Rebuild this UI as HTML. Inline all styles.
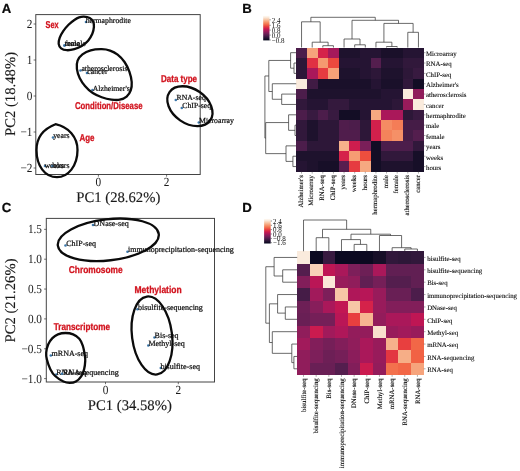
<!DOCTYPE html>
<html lang="en">
<head>
<meta charset="utf-8">
<title>Figure</title>
<style>
html,body{margin:0;padding:0;background:#fff;}
body{width:520px;height:471px;overflow:hidden;font-family:"Liberation Serif", serif;}
svg{display:block;filter:blur(0.45px);}
text{text-rendering:geometricPrecision;}
.fs{font-family:"Liberation Serif", serif;}
.fn{font-family:"Liberation Sans", sans-serif;}
</style>
</head>
<body>
<svg width="520" height="471" viewBox="0 0 520 471">
<rect x="0" y="0" width="520" height="471" fill="#ffffff"/>
<rect x="35.8" y="14.6" width="164.39999999999998" height="159.9" fill="#fff" stroke="#444" stroke-width="1"/>
<text class="fs" x="98.40" y="186.00" font-size="12.4" text-anchor="middle" fill="#1a1a1a" textLength="5.65" lengthAdjust="spacingAndGlyphs">0</text>
<text class="fs" x="166.60" y="186.00" font-size="12.4" text-anchor="middle" fill="#1a1a1a" textLength="5.65" lengthAdjust="spacingAndGlyphs">2</text>
<text class="fs" x="32.50" y="28.10" font-size="12.4" text-anchor="end" fill="#1a1a1a" textLength="5.65" lengthAdjust="spacingAndGlyphs">2</text>
<text class="fs" x="32.50" y="64.10" font-size="12.4" text-anchor="end" fill="#1a1a1a" textLength="5.65" lengthAdjust="spacingAndGlyphs">1</text>
<text class="fs" x="32.50" y="100.10" font-size="12.4" text-anchor="end" fill="#1a1a1a" textLength="5.65" lengthAdjust="spacingAndGlyphs">0</text>
<text class="fs" x="32.50" y="136.10" font-size="12.4" text-anchor="end" fill="#1a1a1a" textLength="12.02" lengthAdjust="spacingAndGlyphs">−1</text>
<text class="fs" x="32.50" y="172.10" font-size="12.4" text-anchor="end" fill="#1a1a1a" textLength="12.02" lengthAdjust="spacingAndGlyphs">−2</text>
<path d="M98.40 174.5v2.2M166.60 174.5v2.2M35.8 24.00h-2.2M35.8 60.00h-2.2M35.8 96.00h-2.2M35.8 132.00h-2.2M35.8 168.00h-2.2" fill="none" stroke="#333" stroke-width="0.7"/>
<text class="fs" x="118.30" y="202.00" font-size="14.7" text-anchor="middle" fill="#1a1a1a" stroke="#1a1a1a" stroke-width="0.15">PC1 (28.62%)</text>
<text class="fs" x="15.40" y="94.00" font-size="14.7" text-anchor="middle" fill="#1a1a1a" transform="rotate(-90 15.40 94.00)" stroke="#1a1a1a" stroke-width="0.15">PC2 (18.48%)</text>
<circle cx="86.00" cy="22.00" r="1.3" fill="#3d78aa"/>
<text class="fs" x="85.70" y="22.60" font-size="7.75" text-anchor="start" fill="#101010" stroke="#101010" stroke-width="0.22">hermaphrodite</text>
<circle cx="64.50" cy="45.50" r="1.3" fill="#3d78aa"/>
<text class="fs" x="64.80" y="46.40" font-size="7.75" text-anchor="start" fill="#101010" stroke="#101010" stroke-width="0.22">female</text>
<circle cx="64.50" cy="45.50" r="1.3" fill="#3d78aa"/>
<text class="fs" x="64.80" y="46.40" font-size="7.75" text-anchor="start" fill="#101010" stroke="#101010" stroke-width="0.22">male</text>
<circle cx="80.50" cy="70.50" r="1.3" fill="#3d78aa"/>
<text class="fs" x="81.40" y="71.40" font-size="7.75" text-anchor="start" fill="#101010" stroke="#101010" stroke-width="0.22">atherosclerosis</text>
<circle cx="87.00" cy="73.00" r="1.3" fill="#3d78aa"/>
<text class="fs" x="87.30" y="74.30" font-size="7.75" text-anchor="start" fill="#101010" stroke="#101010" stroke-width="0.22">cancer</text>
<circle cx="92.50" cy="90.00" r="1.3" fill="#3d78aa"/>
<text class="fs" x="92.70" y="90.50" font-size="7.75" text-anchor="start" fill="#101010" stroke="#101010" stroke-width="0.22">Alzheimer's</text>
<circle cx="175.80" cy="100.00" r="1.3" fill="#3d78aa"/>
<text class="fs" x="176.50" y="100.00" font-size="7.75" text-anchor="start" fill="#101010" stroke="#101010" stroke-width="0.22">RNA-seq</text>
<circle cx="181.80" cy="108.00" r="1.3" fill="#3d78aa"/>
<text class="fs" x="182.30" y="107.50" font-size="7.75" text-anchor="start" fill="#101010" stroke="#101010" stroke-width="0.22">ChIP-seq</text>
<circle cx="198.80" cy="122.50" r="1.3" fill="#3d78aa"/>
<text class="fs" x="199.00" y="123.00" font-size="7.75" text-anchor="start" fill="#101010" stroke="#101010" stroke-width="0.22">Microarray</text>
<circle cx="53.00" cy="137.50" r="1.3" fill="#3d78aa"/>
<text class="fs" x="53.20" y="137.80" font-size="7.75" text-anchor="start" fill="#101010" stroke="#101010" stroke-width="0.22">years</text>
<circle cx="45.00" cy="166.00" r="1.3" fill="#3d78aa"/>
<text class="fs" x="44.50" y="168.00" font-size="7.75" text-anchor="start" fill="#101010" stroke="#101010" stroke-width="0.22">weeks</text>
<circle cx="52.50" cy="166.00" r="1.3" fill="#3d78aa"/>
<text class="fs" x="52.20" y="168.00" font-size="7.75" text-anchor="start" fill="#101010" stroke="#101010" stroke-width="0.22">hours</text>
<path d="M83.86 16.56C85.63 16.65 88.13 17.09 89.68 17.94C91.23 18.78 92.47 20.14 93.17 21.64C93.88 23.14 94.06 24.90 93.92 26.93C93.77 28.96 93.30 31.52 92.33 33.81C91.36 36.10 89.86 38.66 88.10 40.69C86.33 42.72 84.04 44.57 81.75 45.98C79.45 47.39 76.81 48.45 74.34 49.15C71.87 49.86 69.14 50.35 66.93 50.21C64.73 50.07 62.49 49.37 61.11 48.31C59.74 47.25 58.91 45.63 58.68 43.86C58.45 42.10 58.98 39.84 59.74 37.72C60.49 35.61 61.76 33.32 63.23 31.16C64.69 29.01 66.67 26.67 68.52 24.81C70.37 22.96 72.57 21.29 74.34 20.05C76.10 18.82 77.51 17.99 79.10 17.41C80.69 16.83 82.10 16.47 83.86 16.56Z" fill="none" stroke="#0b0b0b" stroke-width="2.3"/>
<path d="M101.75 49.18C104.98 49.23 107.39 49.64 110.04 50.56C112.68 51.48 115.22 52.79 117.63 54.70C120.05 56.61 122.58 59.19 124.54 62.02C126.49 64.85 128.17 68.35 129.37 71.68C130.56 75.02 131.48 78.93 131.71 82.04C131.94 85.15 131.60 87.91 130.75 90.32C129.90 92.74 128.45 94.97 126.61 96.54C124.77 98.10 122.23 99.20 119.70 99.71C117.17 100.22 114.41 99.99 111.42 99.57C108.43 99.16 104.86 98.31 101.75 97.23C98.65 96.14 95.54 94.92 92.78 93.08C90.02 91.24 87.37 88.71 85.19 86.18C83.00 83.65 81.05 80.77 79.66 77.90C78.28 75.02 77.25 71.80 76.90 68.92C76.56 66.05 76.67 63.05 77.59 60.64C78.51 58.22 80.24 56.15 82.43 54.43C84.61 52.70 87.49 51.16 90.71 50.28C93.93 49.41 98.53 49.13 101.75 49.18Z" fill="none" stroke="#0b0b0b" stroke-width="2.3"/>
<ellipse cx="189.9" cy="106.2" rx="24.75" ry="17.2" transform="rotate(34.6 189.9 106.2)" fill="none" stroke="#0b0b0b" stroke-width="2.3"/>
<path d="M55.5 124.2 C68.5 127 77.5 137 77.5 150 C77.5 166 68 177.2 57 177.2 C45 177.2 36.5 166 36.5 150 C36.5 138 43 129 55.5 124.2 Z" fill="none" stroke="#0b0b0b" stroke-width="2.3" stroke-linejoin="round"/>
<text class="fn" x="45.60" y="27.90" font-size="9.9" text-anchor="start" fill="#d2141f" font-weight="bold" textLength="13.00" lengthAdjust="spacingAndGlyphs" stroke="#d2141f" stroke-width="0.3">Sex</text>
<text class="fn" x="75.00" y="109.40" font-size="9.9" text-anchor="start" fill="#d2141f" font-weight="bold" textLength="67.50" lengthAdjust="spacingAndGlyphs" stroke="#d2141f" stroke-width="0.3">Condition/Disease</text>
<text class="fn" x="161.00" y="82.40" font-size="9.9" text-anchor="start" fill="#d2141f" font-weight="bold" textLength="36.00" lengthAdjust="spacingAndGlyphs" stroke="#d2141f" stroke-width="0.3">Data type</text>
<text class="fn" x="79.50" y="141.40" font-size="9.9" text-anchor="start" fill="#d2141f" font-weight="bold" textLength="15.00" lengthAdjust="spacingAndGlyphs" stroke="#d2141f" stroke-width="0.3">Age</text>
<rect x="46.3" y="218.4" width="168.2" height="163.6" fill="#fff" stroke="#444" stroke-width="1"/>
<text class="fs" x="105.50" y="394.00" font-size="12.4" text-anchor="middle" fill="#1a1a1a" textLength="5.65" lengthAdjust="spacingAndGlyphs">0</text>
<text class="fs" x="178.30" y="394.00" font-size="12.4" text-anchor="middle" fill="#1a1a1a" textLength="5.65" lengthAdjust="spacingAndGlyphs">2</text>
<text class="fs" x="42.00" y="233.45" font-size="12.4" text-anchor="end" fill="#1a1a1a" textLength="14.12" lengthAdjust="spacingAndGlyphs">1.5</text>
<text class="fs" x="42.00" y="263.30" font-size="12.4" text-anchor="end" fill="#1a1a1a" textLength="14.12" lengthAdjust="spacingAndGlyphs">1.0</text>
<text class="fs" x="42.00" y="293.15" font-size="12.4" text-anchor="end" fill="#1a1a1a" textLength="14.12" lengthAdjust="spacingAndGlyphs">0.5</text>
<text class="fs" x="42.00" y="323.00" font-size="12.4" text-anchor="end" fill="#1a1a1a" textLength="14.12" lengthAdjust="spacingAndGlyphs">0.0</text>
<text class="fs" x="42.00" y="352.85" font-size="12.4" text-anchor="end" fill="#1a1a1a" textLength="20.50" lengthAdjust="spacingAndGlyphs">−0.5</text>
<text class="fs" x="42.00" y="382.70" font-size="12.4" text-anchor="end" fill="#1a1a1a" textLength="20.50" lengthAdjust="spacingAndGlyphs">−1.0</text>
<path d="M105.50 382.0v2.2M178.30 382.0v2.2M46.3 229.35h-2.2M46.3 259.20h-2.2M46.3 289.05h-2.2M46.3 318.90h-2.2M46.3 348.75h-2.2M46.3 378.60h-2.2" fill="none" stroke="#333" stroke-width="0.7"/>
<text class="fs" x="129.80" y="410.00" font-size="14.7" text-anchor="middle" fill="#1a1a1a" stroke="#1a1a1a" stroke-width="0.15">PC1 (34.58%)</text>
<text class="fs" x="15.40" y="300.50" font-size="14.7" text-anchor="middle" fill="#1a1a1a" transform="rotate(-90 15.40 300.50)" stroke="#1a1a1a" stroke-width="0.15">PC2 (21.26%)</text>
<circle cx="93.00" cy="225.00" r="1.3" fill="#3d78aa"/>
<text class="fs" x="93.60" y="226.30" font-size="8" text-anchor="start" fill="#101010" stroke="#101010" stroke-width="0.22">DNase-seq</text>
<circle cx="65.50" cy="245.50" r="1.3" fill="#3d78aa"/>
<text class="fs" x="66.20" y="246.30" font-size="8" text-anchor="start" fill="#101010" stroke="#101010" stroke-width="0.22">ChIP-seq</text>
<circle cx="127.50" cy="251.80" r="1.3" fill="#3d78aa"/>
<text class="fs" x="128.00" y="251.80" font-size="8" text-anchor="start" fill="#101010" stroke="#101010" stroke-width="0.22">immunoprecipitation-sequencing</text>
<circle cx="137.50" cy="309.30" r="1.3" fill="#3d78aa"/>
<text class="fs" x="138.00" y="310.00" font-size="8" text-anchor="start" fill="#101010" stroke="#101010" stroke-width="0.22">bisulfite-sequencing</text>
<circle cx="154.50" cy="337.50" r="1.3" fill="#3d78aa"/>
<text class="fs" x="154.60" y="338.30" font-size="8" text-anchor="start" fill="#101010" stroke="#101010" stroke-width="0.22">Bis-seq</text>
<circle cx="148.30" cy="345.50" r="1.3" fill="#3d78aa"/>
<text class="fs" x="148.40" y="346.30" font-size="8" text-anchor="start" fill="#101010" stroke="#101010" stroke-width="0.22">Methyl-seq</text>
<circle cx="160.80" cy="368.00" r="1.3" fill="#3d78aa"/>
<text class="fs" x="160.40" y="368.80" font-size="8" text-anchor="start" fill="#101010" stroke="#101010" stroke-width="0.22">bisulfite-seq</text>
<circle cx="50.80" cy="355.50" r="1.3" fill="#3d78aa"/>
<text class="fs" x="51.60" y="355.80" font-size="8" text-anchor="start" fill="#101010" stroke="#101010" stroke-width="0.22">mRNA-seq</text>
<circle cx="56.30" cy="374.50" r="1.3" fill="#3d78aa"/>
<text class="fs" x="56.20" y="374.50" font-size="8" text-anchor="start" fill="#101010" stroke="#101010" stroke-width="0.22">RNA-seq</text>
<circle cx="62.00" cy="373.80" r="1.3" fill="#3d78aa"/>
<text class="fs" x="63.10" y="374.50" font-size="8" text-anchor="start" fill="#101010" stroke="#101010" stroke-width="0.22">RNA-sequencing</text>
<ellipse cx="108.3" cy="239.8" rx="50.8" ry="20.6" transform="rotate(-6.5 108.3 239.8)" fill="none" stroke="#0b0b0b" stroke-width="2.3"/>
<ellipse cx="152" cy="335.5" rx="20" ry="39.3" transform="rotate(-7.5 152 335.5)" fill="none" stroke="#0b0b0b" stroke-width="2.3"/>
<path d="M65.52 333.00C68.05 333.00 70.80 333.41 73.10 334.38C75.40 335.34 77.70 336.91 79.31 338.79C80.92 340.68 81.84 342.93 82.76 345.69C83.68 348.45 84.41 352.82 84.83 355.34C85.24 357.87 85.36 358.56 85.24 360.86C85.13 363.16 84.78 366.61 84.14 369.14C83.49 371.67 82.76 373.97 81.38 376.03C80.00 378.10 77.82 380.40 75.86 381.55C73.91 382.70 71.72 382.93 69.66 382.93C67.59 382.93 65.86 382.70 63.45 381.55C61.03 380.40 57.36 378.10 55.17 376.03C52.99 373.97 51.72 371.90 50.34 369.14C48.97 366.38 47.59 362.24 46.90 359.48C46.21 356.72 45.98 355.11 46.21 352.59C46.44 350.06 47.24 346.72 48.28 344.31C49.31 341.90 50.80 339.76 52.41 338.10C54.02 336.45 55.75 335.23 57.93 334.38C60.11 333.53 62.99 333.00 65.52 333.00Z" fill="none" stroke="#0b0b0b" stroke-width="2.3"/>
<text class="fn" x="68.80" y="273.40" font-size="9.9" text-anchor="start" fill="#d2141f" font-weight="bold" textLength="53.80" lengthAdjust="spacingAndGlyphs" stroke="#d2141f" stroke-width="0.3">Chromosome</text>
<text class="fn" x="134.50" y="293.40" font-size="9.9" text-anchor="start" fill="#d2141f" font-weight="bold" textLength="47.20" lengthAdjust="spacingAndGlyphs" stroke="#d2141f" stroke-width="0.3">Methylation</text>
<text class="fn" x="53.80" y="330.40" font-size="9.9" text-anchor="start" fill="#d2141f" font-weight="bold" textLength="56.20" lengthAdjust="spacingAndGlyphs" stroke="#d2141f" stroke-width="0.3">Transcriptome</text>
<g shape-rendering="crispEdges">
<rect x="296.25" y="47.50" width="10.93" height="10.65" fill="#4c1d4b"/>
<rect x="306.88" y="47.50" width="10.93" height="10.65" fill="#f6a47c"/>
<rect x="317.50" y="47.50" width="10.93" height="10.65" fill="#d5224a"/>
<rect x="328.12" y="47.50" width="10.93" height="10.65" fill="#a4195b"/>
<rect x="338.75" y="47.50" width="10.93" height="10.65" fill="#1e122d"/>
<rect x="349.38" y="47.50" width="10.93" height="10.65" fill="#1e122d"/>
<rect x="360.00" y="47.50" width="10.93" height="10.65" fill="#251433"/>
<rect x="370.62" y="47.50" width="10.93" height="10.65" fill="#251433"/>
<rect x="381.25" y="47.50" width="10.93" height="10.65" fill="#1a102a"/>
<rect x="391.88" y="47.50" width="10.93" height="10.65" fill="#1a102a"/>
<rect x="402.50" y="47.50" width="10.93" height="10.65" fill="#251433"/>
<rect x="413.12" y="47.50" width="10.93" height="10.65" fill="#251433"/>
<rect x="296.25" y="57.85" width="10.93" height="10.65" fill="#2d1738"/>
<rect x="306.88" y="57.85" width="10.93" height="10.65" fill="#e03143"/>
<rect x="317.50" y="57.85" width="10.93" height="10.65" fill="#f59970"/>
<rect x="328.12" y="57.85" width="10.93" height="10.65" fill="#eb483e"/>
<rect x="338.75" y="57.85" width="10.93" height="10.65" fill="#251433"/>
<rect x="349.38" y="57.85" width="10.93" height="10.65" fill="#251433"/>
<rect x="360.00" y="57.85" width="10.93" height="10.65" fill="#251433"/>
<rect x="370.62" y="57.85" width="10.93" height="10.65" fill="#541e4e"/>
<rect x="381.25" y="57.85" width="10.93" height="10.65" fill="#251433"/>
<rect x="391.88" y="57.85" width="10.93" height="10.65" fill="#251433"/>
<rect x="402.50" y="57.85" width="10.93" height="10.65" fill="#31183b"/>
<rect x="413.12" y="57.85" width="10.93" height="10.65" fill="#31183b"/>
<rect x="296.25" y="68.21" width="10.93" height="10.65" fill="#2d1738"/>
<rect x="306.88" y="68.21" width="10.93" height="10.65" fill="#aa185a"/>
<rect x="317.50" y="68.21" width="10.93" height="10.65" fill="#e63b40"/>
<rect x="328.12" y="68.21" width="10.93" height="10.65" fill="#f6a178"/>
<rect x="338.75" y="68.21" width="10.93" height="10.65" fill="#1e122d"/>
<rect x="349.38" y="68.21" width="10.93" height="10.65" fill="#1e122d"/>
<rect x="360.00" y="68.21" width="10.93" height="10.65" fill="#251433"/>
<rect x="370.62" y="68.21" width="10.93" height="10.65" fill="#2d1738"/>
<rect x="381.25" y="68.21" width="10.93" height="10.65" fill="#1e122d"/>
<rect x="391.88" y="68.21" width="10.93" height="10.65" fill="#1e122d"/>
<rect x="402.50" y="68.21" width="10.93" height="10.65" fill="#2d1738"/>
<rect x="413.12" y="68.21" width="10.93" height="10.65" fill="#381a40"/>
<rect x="296.25" y="78.56" width="10.93" height="10.65" fill="#faebdd"/>
<rect x="306.88" y="78.56" width="10.93" height="10.65" fill="#401b44"/>
<rect x="317.50" y="78.56" width="10.93" height="10.65" fill="#1a102a"/>
<rect x="328.12" y="78.56" width="10.93" height="10.65" fill="#1a102a"/>
<rect x="338.75" y="78.56" width="10.93" height="10.65" fill="#1a102a"/>
<rect x="349.38" y="78.56" width="10.93" height="10.65" fill="#1a102a"/>
<rect x="360.00" y="78.56" width="10.93" height="10.65" fill="#1a102a"/>
<rect x="370.62" y="78.56" width="10.93" height="10.65" fill="#251433"/>
<rect x="381.25" y="78.56" width="10.93" height="10.65" fill="#1a102a"/>
<rect x="391.88" y="78.56" width="10.93" height="10.65" fill="#1a102a"/>
<rect x="402.50" y="78.56" width="10.93" height="10.65" fill="#31183b"/>
<rect x="413.12" y="78.56" width="10.93" height="10.65" fill="#130d25"/>
<rect x="296.25" y="88.92" width="10.93" height="10.65" fill="#4c1d4b"/>
<rect x="306.88" y="88.92" width="10.93" height="10.65" fill="#1e122d"/>
<rect x="317.50" y="88.92" width="10.93" height="10.65" fill="#1e122d"/>
<rect x="328.12" y="88.92" width="10.93" height="10.65" fill="#1e122d"/>
<rect x="338.75" y="88.92" width="10.93" height="10.65" fill="#1e122d"/>
<rect x="349.38" y="88.92" width="10.93" height="10.65" fill="#1e122d"/>
<rect x="360.00" y="88.92" width="10.93" height="10.65" fill="#1e122d"/>
<rect x="370.62" y="88.92" width="10.93" height="10.65" fill="#1e122d"/>
<rect x="381.25" y="88.92" width="10.93" height="10.65" fill="#251433"/>
<rect x="391.88" y="88.92" width="10.93" height="10.65" fill="#251433"/>
<rect x="402.50" y="88.92" width="10.93" height="10.65" fill="#faebdd"/>
<rect x="413.12" y="88.92" width="10.93" height="10.65" fill="#901d5b"/>
<rect x="296.25" y="99.27" width="10.93" height="10.65" fill="#31183b"/>
<rect x="306.88" y="99.27" width="10.93" height="10.65" fill="#251433"/>
<rect x="317.50" y="99.27" width="10.93" height="10.65" fill="#251433"/>
<rect x="328.12" y="99.27" width="10.93" height="10.65" fill="#34193d"/>
<rect x="338.75" y="99.27" width="10.93" height="10.65" fill="#34193d"/>
<rect x="349.38" y="99.27" width="10.93" height="10.65" fill="#251433"/>
<rect x="360.00" y="99.27" width="10.93" height="10.65" fill="#251433"/>
<rect x="370.62" y="99.27" width="10.93" height="10.65" fill="#251433"/>
<rect x="381.25" y="99.27" width="10.93" height="10.65" fill="#251433"/>
<rect x="391.88" y="99.27" width="10.93" height="10.65" fill="#2d1738"/>
<rect x="402.50" y="99.27" width="10.93" height="10.65" fill="#981b5b"/>
<rect x="413.12" y="99.27" width="10.93" height="10.65" fill="#faebdd"/>
<rect x="296.25" y="109.62" width="10.93" height="10.65" fill="#4c1d4b"/>
<rect x="306.88" y="109.62" width="10.93" height="10.65" fill="#381a40"/>
<rect x="317.50" y="109.62" width="10.93" height="10.65" fill="#4c1d4b"/>
<rect x="328.12" y="109.62" width="10.93" height="10.65" fill="#381a40"/>
<rect x="338.75" y="109.62" width="10.93" height="10.65" fill="#130d25"/>
<rect x="349.38" y="109.62" width="10.93" height="10.65" fill="#130d25"/>
<rect x="360.00" y="109.62" width="10.93" height="10.65" fill="#251433"/>
<rect x="370.62" y="109.62" width="10.93" height="10.65" fill="#f6a981"/>
<rect x="381.25" y="109.62" width="10.93" height="10.65" fill="#aa185a"/>
<rect x="391.88" y="109.62" width="10.93" height="10.65" fill="#aa185a"/>
<rect x="402.50" y="109.62" width="10.93" height="10.65" fill="#2d1738"/>
<rect x="413.12" y="109.62" width="10.93" height="10.65" fill="#381a40"/>
<rect x="296.25" y="119.98" width="10.93" height="10.65" fill="#31183b"/>
<rect x="306.88" y="119.98" width="10.93" height="10.65" fill="#1e122d"/>
<rect x="317.50" y="119.98" width="10.93" height="10.65" fill="#2d1738"/>
<rect x="328.12" y="119.98" width="10.93" height="10.65" fill="#2d1738"/>
<rect x="338.75" y="119.98" width="10.93" height="10.65" fill="#501d4c"/>
<rect x="349.38" y="119.98" width="10.93" height="10.65" fill="#4c1d4b"/>
<rect x="360.00" y="119.98" width="10.93" height="10.65" fill="#2d1738"/>
<rect x="370.62" y="119.98" width="10.93" height="10.65" fill="#d2204c"/>
<rect x="381.25" y="119.98" width="10.93" height="10.65" fill="#f58b63"/>
<rect x="391.88" y="119.98" width="10.93" height="10.65" fill="#f47d57"/>
<rect x="402.50" y="119.98" width="10.93" height="10.65" fill="#451c47"/>
<rect x="413.12" y="119.98" width="10.93" height="10.65" fill="#451c47"/>
<rect x="296.25" y="130.33" width="10.93" height="10.65" fill="#31183b"/>
<rect x="306.88" y="130.33" width="10.93" height="10.65" fill="#1e122d"/>
<rect x="317.50" y="130.33" width="10.93" height="10.65" fill="#2d1738"/>
<rect x="328.12" y="130.33" width="10.93" height="10.65" fill="#2d1738"/>
<rect x="338.75" y="130.33" width="10.93" height="10.65" fill="#501d4c"/>
<rect x="349.38" y="130.33" width="10.93" height="10.65" fill="#501d4c"/>
<rect x="360.00" y="130.33" width="10.93" height="10.65" fill="#2d1738"/>
<rect x="370.62" y="130.33" width="10.93" height="10.65" fill="#d2204c"/>
<rect x="381.25" y="130.33" width="10.93" height="10.65" fill="#f4835b"/>
<rect x="391.88" y="130.33" width="10.93" height="10.65" fill="#f59067"/>
<rect x="402.50" y="130.33" width="10.93" height="10.65" fill="#451c47"/>
<rect x="413.12" y="130.33" width="10.93" height="10.65" fill="#541e4e"/>
<rect x="296.25" y="140.69" width="10.93" height="10.65" fill="#4c1d4b"/>
<rect x="306.88" y="140.69" width="10.93" height="10.65" fill="#2d1738"/>
<rect x="317.50" y="140.69" width="10.93" height="10.65" fill="#2d1738"/>
<rect x="328.12" y="140.69" width="10.93" height="10.65" fill="#2d1738"/>
<rect x="338.75" y="140.69" width="10.93" height="10.65" fill="#f6b18b"/>
<rect x="349.38" y="140.69" width="10.93" height="10.65" fill="#ce1d4e"/>
<rect x="360.00" y="140.69" width="10.93" height="10.65" fill="#7a1f59"/>
<rect x="370.62" y="140.69" width="10.93" height="10.65" fill="#130d25"/>
<rect x="381.25" y="140.69" width="10.93" height="10.65" fill="#4c1d4b"/>
<rect x="391.88" y="140.69" width="10.93" height="10.65" fill="#4c1d4b"/>
<rect x="402.50" y="140.69" width="10.93" height="10.65" fill="#4c1d4b"/>
<rect x="413.12" y="140.69" width="10.93" height="10.65" fill="#31183b"/>
<rect x="296.25" y="151.04" width="10.93" height="10.65" fill="#1e122d"/>
<rect x="306.88" y="151.04" width="10.93" height="10.65" fill="#1e122d"/>
<rect x="317.50" y="151.04" width="10.93" height="10.65" fill="#1e122d"/>
<rect x="328.12" y="151.04" width="10.93" height="10.65" fill="#1e122d"/>
<rect x="338.75" y="151.04" width="10.93" height="10.65" fill="#d5224a"/>
<rect x="349.38" y="151.04" width="10.93" height="10.65" fill="#f69c73"/>
<rect x="360.00" y="151.04" width="10.93" height="10.65" fill="#ed4e3e"/>
<rect x="370.62" y="151.04" width="10.93" height="10.65" fill="#130d25"/>
<rect x="381.25" y="151.04" width="10.93" height="10.65" fill="#31183b"/>
<rect x="391.88" y="151.04" width="10.93" height="10.65" fill="#31183b"/>
<rect x="402.50" y="151.04" width="10.93" height="10.65" fill="#31183b"/>
<rect x="413.12" y="151.04" width="10.93" height="10.65" fill="#170f28"/>
<rect x="296.25" y="161.40" width="10.93" height="10.65" fill="#251433"/>
<rect x="306.88" y="161.40" width="10.93" height="10.65" fill="#1e122d"/>
<rect x="317.50" y="161.40" width="10.93" height="10.65" fill="#170f28"/>
<rect x="328.12" y="161.40" width="10.93" height="10.65" fill="#170f28"/>
<rect x="338.75" y="161.40" width="10.93" height="10.65" fill="#581e4f"/>
<rect x="349.38" y="161.40" width="10.93" height="10.65" fill="#e63b40"/>
<rect x="360.00" y="161.40" width="10.93" height="10.65" fill="#f6a981"/>
<rect x="370.62" y="161.40" width="10.93" height="10.65" fill="#130d25"/>
<rect x="381.25" y="161.40" width="10.93" height="10.65" fill="#1e122d"/>
<rect x="391.88" y="161.40" width="10.93" height="10.65" fill="#1e122d"/>
<rect x="402.50" y="161.40" width="10.93" height="10.65" fill="#1e122d"/>
<rect x="413.12" y="161.40" width="10.93" height="10.65" fill="#170f28"/>
</g>
<text class="fs" x="426.05" y="55.98" font-size="6.8" text-anchor="start" fill="#0a0a0a" stroke="#0a0a0a" stroke-width="0.1">Microarray</text>
<text class="fs" x="426.05" y="66.33" font-size="6.8" text-anchor="start" fill="#0a0a0a" stroke="#0a0a0a" stroke-width="0.1">RNA-seq</text>
<text class="fs" x="426.05" y="76.69" font-size="6.8" text-anchor="start" fill="#0a0a0a" stroke="#0a0a0a" stroke-width="0.1">ChIP-seq</text>
<text class="fs" x="426.05" y="87.04" font-size="6.8" text-anchor="start" fill="#0a0a0a" stroke="#0a0a0a" stroke-width="0.1">Alzheimer's</text>
<text class="fs" x="426.05" y="97.39" font-size="6.8" text-anchor="start" fill="#0a0a0a" stroke="#0a0a0a" stroke-width="0.1">atherosclerosis</text>
<text class="fs" x="426.05" y="107.75" font-size="6.8" text-anchor="start" fill="#0a0a0a" stroke="#0a0a0a" stroke-width="0.1">cancer</text>
<text class="fs" x="426.05" y="118.10" font-size="6.8" text-anchor="start" fill="#0a0a0a" stroke="#0a0a0a" stroke-width="0.1">hermaphrodite</text>
<text class="fs" x="426.05" y="128.46" font-size="6.8" text-anchor="start" fill="#0a0a0a" stroke="#0a0a0a" stroke-width="0.1">male</text>
<text class="fs" x="426.05" y="138.81" font-size="6.8" text-anchor="start" fill="#0a0a0a" stroke="#0a0a0a" stroke-width="0.1">female</text>
<text class="fs" x="426.05" y="149.16" font-size="6.8" text-anchor="start" fill="#0a0a0a" stroke="#0a0a0a" stroke-width="0.1">years</text>
<text class="fs" x="426.05" y="159.52" font-size="6.8" text-anchor="start" fill="#0a0a0a" stroke="#0a0a0a" stroke-width="0.1">weeks</text>
<text class="fs" x="426.05" y="169.87" font-size="6.8" text-anchor="start" fill="#0a0a0a" stroke="#0a0a0a" stroke-width="0.1">hours</text>
<text class="fs" x="302.86" y="175.05" font-size="6.8" text-anchor="end" fill="#0a0a0a" transform="rotate(-90 302.86 175.05)" stroke="#0a0a0a" stroke-width="0.1">Alzheimer's</text>
<text class="fs" x="313.49" y="175.05" font-size="6.8" text-anchor="end" fill="#0a0a0a" transform="rotate(-90 313.49 175.05)" stroke="#0a0a0a" stroke-width="0.1">Microarray</text>
<text class="fs" x="324.11" y="175.05" font-size="6.8" text-anchor="end" fill="#0a0a0a" transform="rotate(-90 324.11 175.05)" stroke="#0a0a0a" stroke-width="0.1">RNA-seq</text>
<text class="fs" x="334.74" y="175.05" font-size="6.8" text-anchor="end" fill="#0a0a0a" transform="rotate(-90 334.74 175.05)" stroke="#0a0a0a" stroke-width="0.1">ChIP-seq</text>
<text class="fs" x="345.36" y="175.05" font-size="6.8" text-anchor="end" fill="#0a0a0a" transform="rotate(-90 345.36 175.05)" stroke="#0a0a0a" stroke-width="0.1">years</text>
<text class="fs" x="355.99" y="175.05" font-size="6.8" text-anchor="end" fill="#0a0a0a" transform="rotate(-90 355.99 175.05)" stroke="#0a0a0a" stroke-width="0.1">weeks</text>
<text class="fs" x="366.61" y="175.05" font-size="6.8" text-anchor="end" fill="#0a0a0a" transform="rotate(-90 366.61 175.05)" stroke="#0a0a0a" stroke-width="0.1">hours</text>
<text class="fs" x="377.24" y="175.05" font-size="6.8" text-anchor="end" fill="#0a0a0a" transform="rotate(-90 377.24 175.05)" stroke="#0a0a0a" stroke-width="0.1">hermaphrodite</text>
<text class="fs" x="387.86" y="175.05" font-size="6.8" text-anchor="end" fill="#0a0a0a" transform="rotate(-90 387.86 175.05)" stroke="#0a0a0a" stroke-width="0.1">male</text>
<text class="fs" x="398.49" y="175.05" font-size="6.8" text-anchor="end" fill="#0a0a0a" transform="rotate(-90 398.49 175.05)" stroke="#0a0a0a" stroke-width="0.1">female</text>
<text class="fs" x="409.11" y="175.05" font-size="6.8" text-anchor="end" fill="#0a0a0a" transform="rotate(-90 409.11 175.05)" stroke="#0a0a0a" stroke-width="0.1">atherosclerosis</text>
<text class="fs" x="419.74" y="175.05" font-size="6.8" text-anchor="end" fill="#0a0a0a" transform="rotate(-90 419.74 175.05)" stroke="#0a0a0a" stroke-width="0.1">cancer</text>
<path d="M423.75 52.68h1.8M423.75 63.03h1.8M423.75 73.39h1.8M423.75 83.74h1.8M423.75 94.09h1.8M423.75 104.45h1.8M423.75 114.80h1.8M423.75 125.16h1.8M423.75 135.51h1.8M423.75 145.86h1.8M423.75 156.22h1.8M423.75 166.57h1.8M301.56 171.75v1.8M312.19 171.75v1.8M322.81 171.75v1.8M333.44 171.75v1.8M344.06 171.75v1.8M354.69 171.75v1.8M365.31 171.75v1.8M375.94 171.75v1.8M386.56 171.75v1.8M397.19 171.75v1.8M407.81 171.75v1.8M418.44 171.75v1.8" fill="none" stroke="#555" stroke-width="0.5"/>
<path d="M322.81 47.50V45.70H333.44V47.50M312.19 47.50V42.20H328.12V45.70M301.56 47.50V21.80H320.16V42.20M354.69 47.50V44.80H365.31V47.50M344.06 47.50V39.00H360.00V44.80M386.56 47.50V46.50H397.19V47.50M375.94 47.50V42.20H391.88V46.50M407.81 47.50V32.30H418.44V47.50M383.91 42.20V23.40H413.12V32.30M352.03 39.00V20.30H398.52V23.40M310.86 21.80V17.30H375.27V20.30" fill="none" stroke="#3a3a3a" stroke-width="0.75"/>
<path d="M296.25 63.03H294.00V73.39H296.25M296.25 52.68H290.60V68.21H294.00M296.25 94.09H281.70V104.45H296.25M296.25 83.74H272.30V99.27H281.70M290.60 60.44H268.80V91.51H272.30M296.25 125.16H295.00V135.51H296.25M296.25 114.80H288.60V130.33H295.00M296.25 156.22H292.90V166.57H296.25M296.25 145.86H286.00V161.40H292.90M288.60 122.57H265.70V153.63H286.00M268.80 75.97H264.90V138.10H265.70" fill="none" stroke="#3a3a3a" stroke-width="0.75"/>
<defs><linearGradient id="cb26315" x1="0" y1="0" x2="0" y2="1"><stop offset="0" stop-color="#fffaf4"/><stop offset="0.060" stop-color="#faebdd"/><stop offset="0.154" stop-color="#f7c6a6"/><stop offset="0.248" stop-color="#f69c73"/><stop offset="0.342" stop-color="#f3714d"/><stop offset="0.436" stop-color="#e83f3f"/><stop offset="0.530" stop-color="#cb1b4f"/><stop offset="0.624" stop-color="#a11a5b"/><stop offset="0.718" stop-color="#751f58"/><stop offset="0.812" stop-color="#4c1d4b"/><stop offset="0.906" stop-color="#251433"/><stop offset="1.000" stop-color="#03051a"/></linearGradient></defs>
<rect x="263.20" y="15.80" width="6.30" height="24.60" fill="url(#cb26315)"/>
<text class="fs" x="271.80" y="22.50" font-size="7.700000000000001" text-anchor="start" fill="#111" textLength="8.75" lengthAdjust="spacingAndGlyphs">2.4</text>
<text class="fs" x="271.80" y="28.00" font-size="7.700000000000001" text-anchor="start" fill="#111" textLength="8.75" lengthAdjust="spacingAndGlyphs">1.6</text>
<text class="fs" x="271.80" y="32.80" font-size="7.700000000000001" text-anchor="start" fill="#111" textLength="8.75" lengthAdjust="spacingAndGlyphs">0.8</text>
<text class="fs" x="271.80" y="37.80" font-size="7.700000000000001" text-anchor="start" fill="#111" textLength="8.75" lengthAdjust="spacingAndGlyphs">0.0</text>
<text class="fs" x="271.80" y="42.70" font-size="7.700000000000001" text-anchor="start" fill="#111" textLength="12.70" lengthAdjust="spacingAndGlyphs">−0.8</text>
<path d="M269.50 19.80h1.3M269.50 25.30h1.3M269.50 30.10h1.3M269.50 35.10h1.3M269.50 40.00h1.3" fill="none" stroke="#222" stroke-width="0.5"/>
<g shape-rendering="crispEdges">
<rect x="297.20" y="251.25" width="12.96" height="12.68" fill="#faebdd"/>
<rect x="309.86" y="251.25" width="12.96" height="12.68" fill="#0b0920"/>
<rect x="322.51" y="251.25" width="12.96" height="12.68" fill="#381a40"/>
<rect x="335.16" y="251.25" width="12.96" height="12.68" fill="#0b0920"/>
<rect x="347.82" y="251.25" width="12.96" height="12.68" fill="#0b0920"/>
<rect x="360.48" y="251.25" width="12.96" height="12.68" fill="#0b0920"/>
<rect x="373.13" y="251.25" width="12.96" height="12.68" fill="#170f28"/>
<rect x="385.78" y="251.25" width="12.96" height="12.68" fill="#31183b"/>
<rect x="398.44" y="251.25" width="12.96" height="12.68" fill="#2d1738"/>
<rect x="411.10" y="251.25" width="12.96" height="12.68" fill="#31183b"/>
<rect x="297.20" y="263.62" width="12.96" height="12.68" fill="#541e4e"/>
<rect x="309.86" y="263.62" width="12.96" height="12.68" fill="#f8d1b8"/>
<rect x="322.51" y="263.62" width="12.96" height="12.68" fill="#bf1654"/>
<rect x="335.16" y="263.62" width="12.96" height="12.68" fill="#aa185a"/>
<rect x="347.82" y="263.62" width="12.96" height="12.68" fill="#7d1f5a"/>
<rect x="360.48" y="263.62" width="12.96" height="12.68" fill="#6d1f56"/>
<rect x="373.13" y="263.62" width="12.96" height="12.68" fill="#aa185a"/>
<rect x="385.78" y="263.62" width="12.96" height="12.68" fill="#611f53"/>
<rect x="398.44" y="263.62" width="12.96" height="12.68" fill="#611f53"/>
<rect x="411.10" y="263.62" width="12.96" height="12.68" fill="#611f53"/>
<rect x="297.20" y="276.00" width="12.96" height="12.68" fill="#821e5a"/>
<rect x="309.86" y="276.00" width="12.96" height="12.68" fill="#ba1656"/>
<rect x="322.51" y="276.00" width="12.96" height="12.68" fill="#fae8d8"/>
<rect x="335.16" y="276.00" width="12.96" height="12.68" fill="#981b5b"/>
<rect x="347.82" y="276.00" width="12.96" height="12.68" fill="#901d5b"/>
<rect x="360.48" y="276.00" width="12.96" height="12.68" fill="#611f53"/>
<rect x="373.13" y="276.00" width="12.96" height="12.68" fill="#751f58"/>
<rect x="385.78" y="276.00" width="12.96" height="12.68" fill="#541e4e"/>
<rect x="398.44" y="276.00" width="12.96" height="12.68" fill="#541e4e"/>
<rect x="411.10" y="276.00" width="12.96" height="12.68" fill="#611f53"/>
<rect x="297.20" y="288.38" width="12.96" height="12.68" fill="#451c47"/>
<rect x="309.86" y="288.38" width="12.96" height="12.68" fill="#a11a5b"/>
<rect x="322.51" y="288.38" width="12.96" height="12.68" fill="#7d1f5a"/>
<rect x="335.16" y="288.38" width="12.96" height="12.68" fill="#f7c6a6"/>
<rect x="347.82" y="288.38" width="12.96" height="12.68" fill="#af1759"/>
<rect x="360.48" y="288.38" width="12.96" height="12.68" fill="#b71657"/>
<rect x="373.13" y="288.38" width="12.96" height="12.68" fill="#981b5b"/>
<rect x="385.78" y="288.38" width="12.96" height="12.68" fill="#691f55"/>
<rect x="398.44" y="288.38" width="12.96" height="12.68" fill="#691f55"/>
<rect x="411.10" y="288.38" width="12.96" height="12.68" fill="#4c1d4b"/>
<rect x="297.20" y="300.75" width="12.96" height="12.68" fill="#6d1f56"/>
<rect x="309.86" y="300.75" width="12.96" height="12.68" fill="#871e5b"/>
<rect x="322.51" y="300.75" width="12.96" height="12.68" fill="#aa185a"/>
<rect x="335.16" y="300.75" width="12.96" height="12.68" fill="#c21753"/>
<rect x="347.82" y="300.75" width="12.96" height="12.68" fill="#f7c6a6"/>
<rect x="360.48" y="300.75" width="12.96" height="12.68" fill="#d5224a"/>
<rect x="373.13" y="300.75" width="12.96" height="12.68" fill="#981b5b"/>
<rect x="385.78" y="300.75" width="12.96" height="12.68" fill="#821e5a"/>
<rect x="398.44" y="300.75" width="12.96" height="12.68" fill="#821e5a"/>
<rect x="411.10" y="300.75" width="12.96" height="12.68" fill="#821e5a"/>
<rect x="297.20" y="313.12" width="12.96" height="12.68" fill="#691f55"/>
<rect x="309.86" y="313.12" width="12.96" height="12.68" fill="#751f58"/>
<rect x="322.51" y="313.12" width="12.96" height="12.68" fill="#751f58"/>
<rect x="335.16" y="313.12" width="12.96" height="12.68" fill="#ba1656"/>
<rect x="347.82" y="313.12" width="12.96" height="12.68" fill="#e83f3f"/>
<rect x="360.48" y="313.12" width="12.96" height="12.68" fill="#f6b691"/>
<rect x="373.13" y="313.12" width="12.96" height="12.68" fill="#931c5b"/>
<rect x="385.78" y="313.12" width="12.96" height="12.68" fill="#aa185a"/>
<rect x="398.44" y="313.12" width="12.96" height="12.68" fill="#aa185a"/>
<rect x="411.10" y="313.12" width="12.96" height="12.68" fill="#bf1654"/>
<rect x="297.20" y="325.50" width="12.96" height="12.68" fill="#901d5b"/>
<rect x="309.86" y="325.50" width="12.96" height="12.68" fill="#cb1b4f"/>
<rect x="322.51" y="325.50" width="12.96" height="12.68" fill="#a11a5b"/>
<rect x="335.16" y="325.50" width="12.96" height="12.68" fill="#af1759"/>
<rect x="347.82" y="325.50" width="12.96" height="12.68" fill="#931c5b"/>
<rect x="360.48" y="325.50" width="12.96" height="12.68" fill="#931c5b"/>
<rect x="373.13" y="325.50" width="12.96" height="12.68" fill="#f9e0cd"/>
<rect x="385.78" y="325.50" width="12.96" height="12.68" fill="#981b5b"/>
<rect x="398.44" y="325.50" width="12.96" height="12.68" fill="#a11a5b"/>
<rect x="411.10" y="325.50" width="12.96" height="12.68" fill="#981b5b"/>
<rect x="297.20" y="337.88" width="12.96" height="12.68" fill="#a11a5b"/>
<rect x="309.86" y="337.88" width="12.96" height="12.68" fill="#821e5a"/>
<rect x="322.51" y="337.88" width="12.96" height="12.68" fill="#751f58"/>
<rect x="335.16" y="337.88" width="12.96" height="12.68" fill="#821e5a"/>
<rect x="347.82" y="337.88" width="12.96" height="12.68" fill="#901d5b"/>
<rect x="360.48" y="337.88" width="12.96" height="12.68" fill="#aa185a"/>
<rect x="373.13" y="337.88" width="12.96" height="12.68" fill="#981b5b"/>
<rect x="385.78" y="337.88" width="12.96" height="12.68" fill="#f6b18b"/>
<rect x="398.44" y="337.88" width="12.96" height="12.68" fill="#e83f3f"/>
<rect x="411.10" y="337.88" width="12.96" height="12.68" fill="#f26747"/>
<rect x="297.20" y="350.25" width="12.96" height="12.68" fill="#901d5b"/>
<rect x="309.86" y="350.25" width="12.96" height="12.68" fill="#7d1f5a"/>
<rect x="322.51" y="350.25" width="12.96" height="12.68" fill="#6d1f56"/>
<rect x="335.16" y="350.25" width="12.96" height="12.68" fill="#751f58"/>
<rect x="347.82" y="350.25" width="12.96" height="12.68" fill="#8b1d5b"/>
<rect x="360.48" y="350.25" width="12.96" height="12.68" fill="#aa185a"/>
<rect x="373.13" y="350.25" width="12.96" height="12.68" fill="#981b5b"/>
<rect x="385.78" y="350.25" width="12.96" height="12.68" fill="#e33641"/>
<rect x="398.44" y="350.25" width="12.96" height="12.68" fill="#f6ae87"/>
<rect x="411.10" y="350.25" width="12.96" height="12.68" fill="#f16244"/>
<rect x="297.20" y="362.62" width="12.96" height="12.68" fill="#901d5b"/>
<rect x="309.86" y="362.62" width="12.96" height="12.68" fill="#691f55"/>
<rect x="322.51" y="362.62" width="12.96" height="12.68" fill="#691f55"/>
<rect x="335.16" y="362.62" width="12.96" height="12.68" fill="#541e4e"/>
<rect x="347.82" y="362.62" width="12.96" height="12.68" fill="#821e5a"/>
<rect x="360.48" y="362.62" width="12.96" height="12.68" fill="#cb1b4f"/>
<rect x="373.13" y="362.62" width="12.96" height="12.68" fill="#931c5b"/>
<rect x="385.78" y="362.62" width="12.96" height="12.68" fill="#f3714d"/>
<rect x="398.44" y="362.62" width="12.96" height="12.68" fill="#f26747"/>
<rect x="411.10" y="362.62" width="12.96" height="12.68" fill="#f6a47c"/>
</g>
<text class="fs" x="427.15" y="260.74" font-size="6.8" text-anchor="start" fill="#0a0a0a" stroke="#0a0a0a" stroke-width="0.1">bisulfite-seq</text>
<text class="fs" x="427.15" y="273.11" font-size="6.8" text-anchor="start" fill="#0a0a0a" stroke="#0a0a0a" stroke-width="0.1">bisulfite-sequencing</text>
<text class="fs" x="427.15" y="285.49" font-size="6.8" text-anchor="start" fill="#0a0a0a" stroke="#0a0a0a" stroke-width="0.1">Bis-seq</text>
<text class="fs" x="427.15" y="297.86" font-size="6.8" text-anchor="start" fill="#0a0a0a" stroke="#0a0a0a" stroke-width="0.1">immunoprecipitation-sequencing</text>
<text class="fs" x="427.15" y="310.24" font-size="6.8" text-anchor="start" fill="#0a0a0a" stroke="#0a0a0a" stroke-width="0.1">DNase-seq</text>
<text class="fs" x="427.15" y="322.61" font-size="6.8" text-anchor="start" fill="#0a0a0a" stroke="#0a0a0a" stroke-width="0.1">ChIP-seq</text>
<text class="fs" x="427.15" y="334.99" font-size="6.8" text-anchor="start" fill="#0a0a0a" stroke="#0a0a0a" stroke-width="0.1">Methyl-seq</text>
<text class="fs" x="427.15" y="347.36" font-size="6.8" text-anchor="start" fill="#0a0a0a" stroke="#0a0a0a" stroke-width="0.1">mRNA-seq</text>
<text class="fs" x="427.15" y="359.74" font-size="6.8" text-anchor="start" fill="#0a0a0a" stroke="#0a0a0a" stroke-width="0.1">RNA-sequencing</text>
<text class="fs" x="427.15" y="372.11" font-size="6.8" text-anchor="start" fill="#0a0a0a" stroke="#0a0a0a" stroke-width="0.1">RNA-seq</text>
<text class="fs" x="305.63" y="378.30" font-size="6.8" text-anchor="end" fill="#0a0a0a" transform="rotate(-90 305.63 378.30)" stroke="#0a0a0a" stroke-width="0.1">bisulfite-seq</text>
<text class="fs" x="318.28" y="378.30" font-size="6.8" text-anchor="end" fill="#0a0a0a" transform="rotate(-90 318.28 378.30)" stroke="#0a0a0a" stroke-width="0.1">bisulfite-sequencing</text>
<text class="fs" x="330.94" y="378.30" font-size="6.8" text-anchor="end" fill="#0a0a0a" transform="rotate(-90 330.94 378.30)" stroke="#0a0a0a" stroke-width="0.1">Bis-seq</text>
<text class="fs" x="343.59" y="378.30" font-size="6.8" text-anchor="end" fill="#0a0a0a" transform="rotate(-90 343.59 378.30)" stroke="#0a0a0a" stroke-width="0.1">immunoprecipitation-sequencing</text>
<text class="fs" x="356.25" y="378.30" font-size="6.8" text-anchor="end" fill="#0a0a0a" transform="rotate(-90 356.25 378.30)" stroke="#0a0a0a" stroke-width="0.1">DNase-seq</text>
<text class="fs" x="368.90" y="378.30" font-size="6.8" text-anchor="end" fill="#0a0a0a" transform="rotate(-90 368.90 378.30)" stroke="#0a0a0a" stroke-width="0.1">ChIP-seq</text>
<text class="fs" x="381.56" y="378.30" font-size="6.8" text-anchor="end" fill="#0a0a0a" transform="rotate(-90 381.56 378.30)" stroke="#0a0a0a" stroke-width="0.1">Methyl-seq</text>
<text class="fs" x="394.21" y="378.30" font-size="6.8" text-anchor="end" fill="#0a0a0a" transform="rotate(-90 394.21 378.30)" stroke="#0a0a0a" stroke-width="0.1">mRNA-seq</text>
<text class="fs" x="406.87" y="378.30" font-size="6.8" text-anchor="end" fill="#0a0a0a" transform="rotate(-90 406.87 378.30)" stroke="#0a0a0a" stroke-width="0.1">RNA-sequencing</text>
<text class="fs" x="419.52" y="378.30" font-size="6.8" text-anchor="end" fill="#0a0a0a" transform="rotate(-90 419.52 378.30)" stroke="#0a0a0a" stroke-width="0.1">RNA-seq</text>
<path d="M423.75 257.44h1.8M423.75 269.81h1.8M423.75 282.19h1.8M423.75 294.56h1.8M423.75 306.94h1.8M423.75 319.31h1.8M423.75 331.69h1.8M423.75 344.06h1.8M423.75 356.44h1.8M423.75 368.81h1.8M303.53 375.00v1.8M316.18 375.00v1.8M328.84 375.00v1.8M341.49 375.00v1.8M354.15 375.00v1.8M366.80 375.00v1.8M379.46 375.00v1.8M392.11 375.00v1.8M404.77 375.00v1.8M417.42 375.00v1.8" fill="none" stroke="#555" stroke-width="0.5"/>
<path d="M316.18 251.25V237.70H328.84V251.25M354.15 251.25V244.40H366.80V251.25M341.49 251.25V239.60H360.48V244.40M404.77 251.25V249.00H417.42V251.25M392.11 251.25V247.70H411.10V249.00M379.46 251.25V235.50H401.60V247.70M350.98 239.60V234.20H390.53V235.50M322.51 237.70V229.30H370.76V234.20M303.53 251.25V220.00H346.63V229.30" fill="none" stroke="#3a3a3a" stroke-width="0.75"/>
<path d="M297.20 269.81H282.70V282.19H297.20M297.20 257.44H274.10V276.00H282.70M297.20 306.94H285.30V319.31H297.20M297.20 294.56H277.60V313.12H285.30M297.20 356.44H293.90V368.81H297.20M297.20 344.06H291.80V362.62H293.90M297.20 331.69H272.30V353.34H291.80M277.60 303.84H269.40V342.52H272.30M274.10 266.72H265.80V323.18H269.40" fill="none" stroke="#3a3a3a" stroke-width="0.75"/>
<defs><linearGradient id="cb264218" x1="0" y1="0" x2="0" y2="1"><stop offset="0" stop-color="#fffaf4"/><stop offset="0.060" stop-color="#faebdd"/><stop offset="0.154" stop-color="#f7c6a6"/><stop offset="0.248" stop-color="#f69c73"/><stop offset="0.342" stop-color="#f3714d"/><stop offset="0.436" stop-color="#e83f3f"/><stop offset="0.530" stop-color="#cb1b4f"/><stop offset="0.624" stop-color="#a11a5b"/><stop offset="0.718" stop-color="#751f58"/><stop offset="0.812" stop-color="#4c1d4b"/><stop offset="0.906" stop-color="#251433"/><stop offset="1.000" stop-color="#03051a"/></linearGradient></defs>
<rect x="264.10" y="218.90" width="6.60" height="24.60" fill="url(#cb264218)"/>
<text class="fs" x="273.10" y="223.70" font-size="7.700000000000001" text-anchor="start" fill="#111" textLength="8.75" lengthAdjust="spacingAndGlyphs">2.4</text>
<text class="fs" x="273.10" y="228.00" font-size="7.700000000000001" text-anchor="start" fill="#111" textLength="8.75" lengthAdjust="spacingAndGlyphs">1.6</text>
<text class="fs" x="273.10" y="232.30" font-size="7.700000000000001" text-anchor="start" fill="#111" textLength="8.75" lengthAdjust="spacingAndGlyphs">0.8</text>
<text class="fs" x="273.10" y="236.70" font-size="7.700000000000001" text-anchor="start" fill="#111" textLength="8.75" lengthAdjust="spacingAndGlyphs">0.0</text>
<text class="fs" x="273.10" y="241.10" font-size="7.700000000000001" text-anchor="start" fill="#111" textLength="12.70" lengthAdjust="spacingAndGlyphs">−0.8</text>
<text class="fs" x="273.10" y="245.40" font-size="7.700000000000001" text-anchor="start" fill="#111" textLength="12.70" lengthAdjust="spacingAndGlyphs">−1.6</text>
<path d="M270.70 221.00h1.3M270.70 225.30h1.3M270.70 229.60h1.3M270.70 234.00h1.3M270.70 238.40h1.3M270.70 242.70h1.3" fill="none" stroke="#222" stroke-width="0.5"/>
<text class="fn" x="1.80" y="12.80" font-size="13.2" text-anchor="start" fill="#0a0a0a" font-weight="bold" stroke="#0a0a0a" stroke-width="0.2">A</text>
<text class="fn" x="242.30" y="12.80" font-size="13.2" text-anchor="start" fill="#0a0a0a" font-weight="bold" stroke="#0a0a0a" stroke-width="0.2">B</text>
<text class="fn" x="1.80" y="211.90" font-size="13.2" text-anchor="start" fill="#0a0a0a" font-weight="bold" stroke="#0a0a0a" stroke-width="0.2">C</text>
<text class="fn" x="242.30" y="211.90" font-size="13.2" text-anchor="start" fill="#0a0a0a" font-weight="bold" stroke="#0a0a0a" stroke-width="0.2">D</text>
</svg>
</body>
</html>
